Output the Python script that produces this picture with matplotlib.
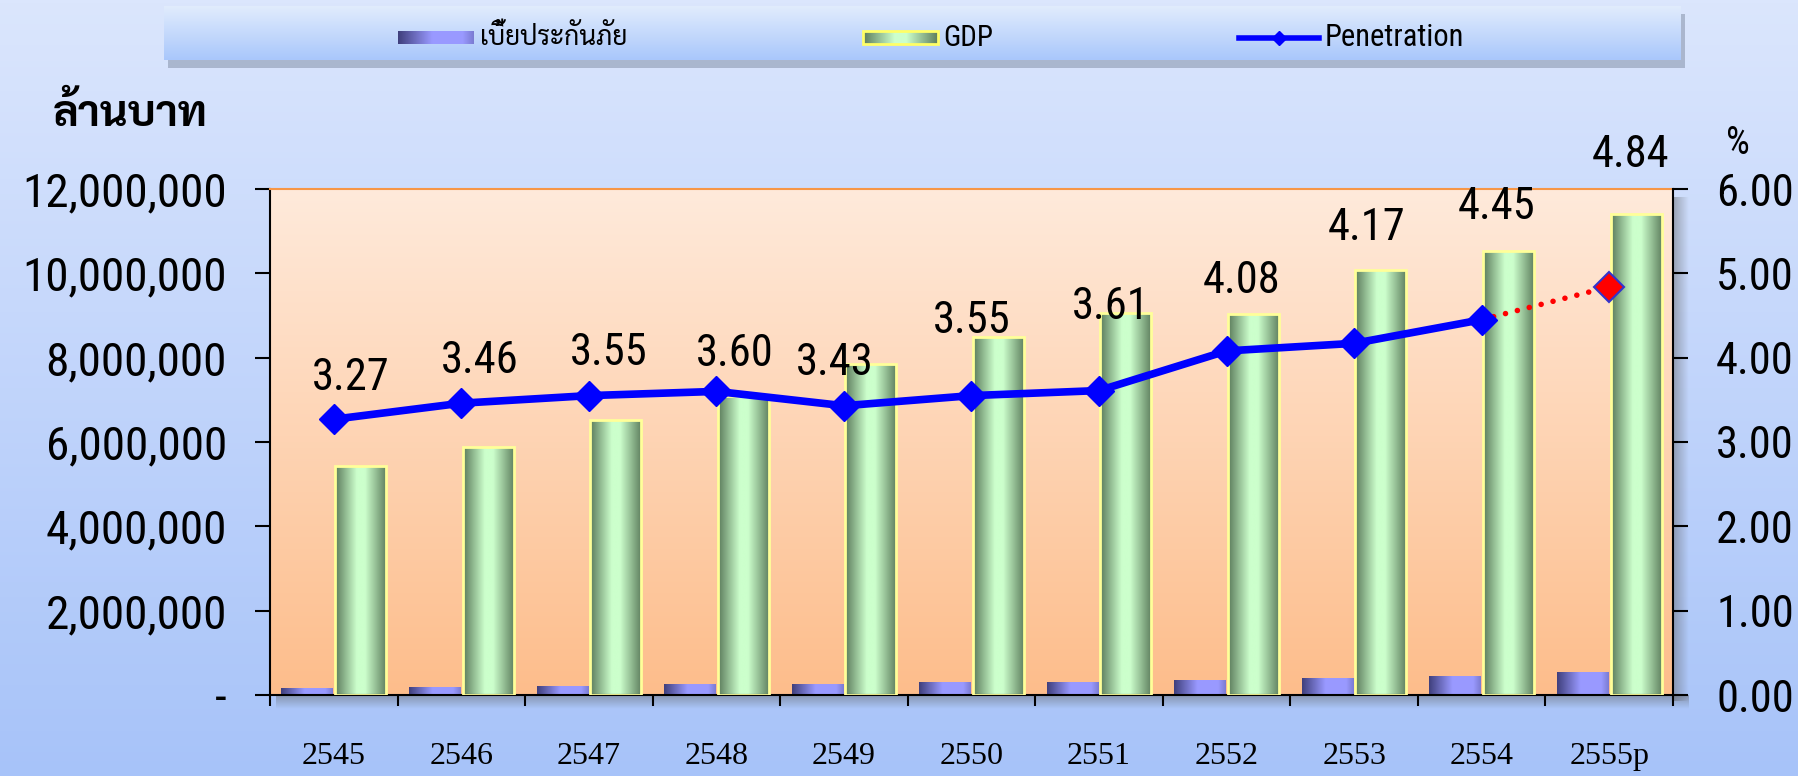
import numpy as np
import matplotlib
matplotlib.use('Agg')
import matplotlib.pyplot as plt
from matplotlib.colors import LinearSegmentedColormap
from matplotlib.patches import Rectangle

# ข้อมูล (ล้านบาท / %)
years = ['2545', '2546', '2547', '2548', '2549', '2550', '2551', '2552', '2553', '2554', '2555p']
premium = [160000, 200000, 210000, 260000, 260000, 310000, 310000, 360000, 410000, 460000, 550000]
gdp = [5440000, 5880000, 6520000, 7090000, 7860000, 8500000, 9060000, 9040000, 10080000, 10520000, 11400000]
penetration = [3.27, 3.46, 3.55, 3.60, 3.43, 3.55, 3.61, 4.08, 4.17, 4.45, 4.84]

# label placement (pixels from the point)
label_dx = [17, 18, 20, 18, -9, 0, 12, 15, 12, 15, 21]
label_dy = [41, 42, 43, 37, 43, 75, 84, 70, 115, 113, 132]

NUM = ['Roboto Condensed', 'DejaVu Sans']
THAI = ['Sarabun', 'DejaVu Sans']

W, H = 1799, 776
fig = plt.figure(figsize=(W / 100, H / 100), dpi=100)


def fx(px):
    return px / W


def fy(py):
    return 1 - py / H


def cmap(*stops):
    return LinearSegmentedColormap.from_list('c', list(stops))


vgrad = np.linspace(0, 1, 256).reshape(-1, 1)
hgrad = np.linspace(0, 1, 256).reshape(1, -1)

# พื้นหลัง
bg = fig.add_axes([0, 0, 1, 1], zorder=-10)
bg.imshow(vgrad, cmap=cmap('#dbe6fd', '#a7c3f9'), aspect='auto', extent=[0, 1, 0, 1])
bg.axis('off')

L, R, T, B = 270, 1673, 189, 695

# shadow right of / below the plot area
sh = np.zeros((1, 64, 4))
sh[..., :3] = 0.35
sh[0, :, 3] = np.linspace(0.45, 0, 64)
sax = fig.add_axes([fx(R), fy(B + 6), 16 / W, (B - T - 2) / H], zorder=-6)
sax.imshow(sh, aspect='auto', extent=[0, 1, 0, 1])
sax.axis('off')
shb = np.transpose(sh, (1, 0, 2))
sbx = fig.add_axes([fx(L + 6), fy(B + 14), (R - L + 10) / W, 14 / H], zorder=-6)
sbx.imshow(shb, aspect='auto', extent=[0, 1, 0, 1])
sbx.axis('off')

rect = [fx(L), fy(B), (R - L) / W, (B - T) / H]
pbg = fig.add_axes(rect, zorder=-5)
pbg.imshow(vgrad, cmap=cmap('#ffeadb', '#fdbd8b'), aspect='auto', extent=[0, 1, 0, 1])
pbg.axis('off')

ax = fig.add_axes(rect, zorder=1)
ax.patch.set_visible(False)
x = np.arange(len(years))
bw = 0.40

prem_cmap = cmap((0, '#3f3f7c'), (0.45, '#9999ff'), (0.85, '#9a9aff'), (1, '#7b7bd2'))
gdp_cmap = cmap((0, '#5b7b5b'), (0.42, '#ccffcc'), (0.58, '#ccffcc'), (1, '#5d7d5d'))

b1 = ax.bar(x - 0.21, premium, bw, color='none', edgecolor='none', zorder=2)
b2 = ax.bar(x + 0.21, gdp, bw, facecolor='none', edgecolor='#ffff99', lw=2, zorder=3)
for bars, cm in ((b1, prem_cmap), (b2, gdp_cmap)):
    for p in bars:
        x0, w, h = p.get_x(), p.get_width(), p.get_height()
        im = ax.imshow(hgrad, cmap=cm, aspect='auto', extent=[x0, x0 + w, 0, h], zorder=2)
        im.set_clip_path(p)

ax.set_xlim(-0.5, len(years) - 0.5)
ax.set_ylim(0, 12000000)
yt = np.arange(0, 12000001, 2000000)
ax.set_yticks(yt)
ax.set_yticklabels(['-' if v == 0 else f'{v:,.0f}' for v in yt], family=NUM, fontsize=34)
ax.tick_params(axis='y', length=11, width=1.5, pad=20)
ax.set_xticks(np.arange(-0.5, len(years), 1))
ax.set_xticklabels([])
ax.tick_params(axis='x', which='major', length=8, width=1.5)
ax.set_xticks(x, minor=True)
ax.set_xticklabels(years, minor=True, fontsize=23, family='Liberation Serif')
ax.tick_params(axis='x', which='minor', length=0, pad=34)
ax.spines['top'].set_color('#f79646')
ax.spines['top'].set_linewidth(1.5)
ax.spines['right'].set_visible(False)
for s in ('left', 'bottom'):
    ax.spines[s].set_linewidth(1.5)

ax2 = ax.twinx()
ax2.set_ylim(0, 6)
rt = np.arange(0, 7, 1)
ax2.set_yticks(rt)
ax2.set_yticklabels([f'{v:.2f}' for v in rt], family=NUM, fontsize=32)
ax2.tick_params(axis='y', length=11, width=1.5, pad=20)
for s in ('left', 'top', 'bottom'):
    ax2.spines[s].set_visible(False)
ax2.spines['right'].set_linewidth(1.5)

ax2.plot(x[:-1], penetration[:-1], color='#0000ff', lw=5.5, marker='D', ms=15, zorder=5)
ax2.plot(x[-2:], penetration[-2:], color='red', lw=4, ls=(0, (0.01, 2.2)),
         dash_capstyle='round', zorder=4)
ax2.plot(x[-1], penetration[-1], marker='D', ms=15, mfc='red', mec='#3333cc', mew=1.5,
         ls='none', zorder=6)
for i, v, dx, dy in zip(x, penetration, label_dx, label_dy):
    ax2.annotate(f'{v:.2f}', (i, v), xytext=(dx, dy), textcoords='offset pixels',
                 ha='center', va='center', fontsize=32, family=NUM, zorder=7)

fig.text(fx(130), fy(115), 'ล้านบาท', ha='center', va='center', fontsize=31,
         weight='bold', family=THAI)
fig.text(fx(1738), fy(143), '%', ha='center', va='center', fontsize=27, family=NUM)

# legend box
fig.patches.append(Rectangle((fx(168), fy(68)), 1517 / W, 54 / H, transform=fig.transFigure,
                             facecolor='#56627a', alpha=0.35, edgecolor='none', zorder=2))
lax = fig.add_axes([fx(164), fy(60), 1517 / W, 54 / H], zorder=3)
lax.imshow(vgrad, cmap=cmap('#e1ecfd', '#a9c7fb'), aspect='auto', extent=[0, 1517, 0, 54])
lax.imshow(hgrad, cmap=prem_cmap, aspect='auto', extent=[234, 310, 16, 29], zorder=2)
lax.imshow(hgrad, cmap=gdp_cmap, aspect='auto', extent=[699, 774, 16, 29], zorder=2)
lax.add_patch(Rectangle((699, 16), 75, 13, facecolor='none', edgecolor='#ffff66', lw=2, zorder=3))
lax.plot([1075, 1155], [22.5, 22.5], color='#0000ff', lw=4, zorder=3)
lax.plot([1115], [22.5], color='#0000ff', marker='D', ms=7, zorder=3)
lax.text(316, 22, 'เบี้ยประกันภัย', va='center', fontsize=19, family=THAI)
lax.text(779, 22, 'GDP', va='center', fontsize=21, family=NUM)
lax.text(1161, 22, 'Penetration', va='center', fontsize=22, family=NUM)
lax.set_xlim(0, 1517)
lax.set_ylim(0, 54)
lax.axis('off')

fig.savefig('out.png', dpi=100)
